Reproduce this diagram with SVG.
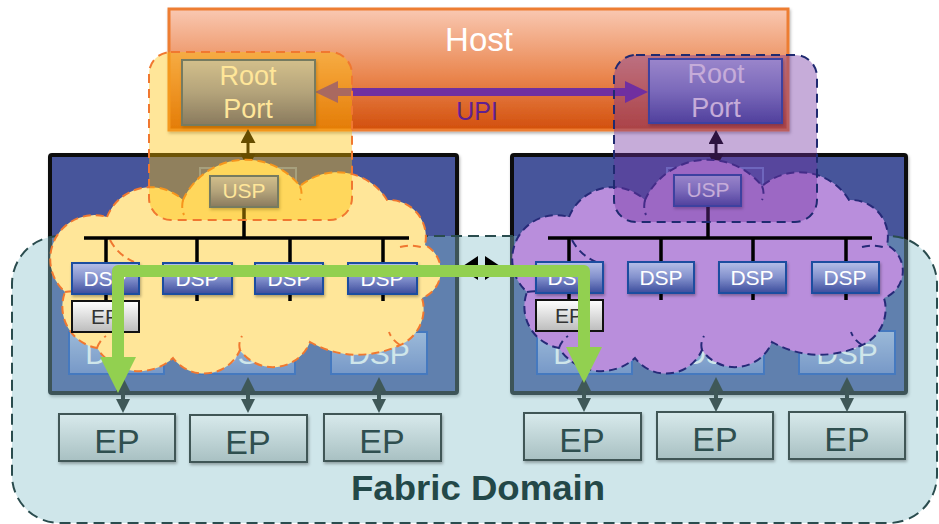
<svg xmlns="http://www.w3.org/2000/svg" width="939" height="524" viewBox="0 0 939 524">
  <defs>
    <linearGradient id="g-host" x1="0" y1="0" x2="0" y2="1">
      <stop offset="0" stop-color="#f9c8b2"/>
      <stop offset="0.55" stop-color="#ea8750"/>
      <stop offset="1" stop-color="#d24f0c"/>
    </linearGradient>
    <linearGradient id="g-port" x1="0" y1="0" x2="0" y2="1">
      <stop offset="0" stop-color="#b6bfe8"/>
      <stop offset="0.5" stop-color="#8290cc"/>
      <stop offset="1" stop-color="#3c4c9c"/>
    </linearGradient>
    <linearGradient id="g-port-soft" x1="0" y1="0" x2="0" y2="1">
      <stop offset="0" stop-color="#a9b5e2"/>
      <stop offset="1" stop-color="#6d7ec6"/>
    </linearGradient>
    <linearGradient id="g-ep" x1="0" y1="0" x2="0" y2="1">
      <stop offset="0" stop-color="#d8eaec"/>
      <stop offset="1" stop-color="#a8c0c2"/>
    </linearGradient>
    <linearGradient id="g-ep-small" x1="0" y1="0" x2="0" y2="1">
      <stop offset="0" stop-color="#ffffff"/>
      <stop offset="1" stop-color="#bcbcbc"/>
    </linearGradient>
    <filter id="shadow" x="-10%" y="-10%" width="130%" height="150%">
      <feDropShadow dx="1" dy="2" stdDeviation="1.5" flood-color="#000" flood-opacity="0.3"/>
    </filter>
    <marker id="hd-slate" viewBox="0 0 14 14" refX="4" refY="7" markerWidth="14" markerHeight="14" markerUnits="userSpaceOnUse" orient="auto-start-reverse">
      <path d="M0,0 L14,7 L0,14 Z" fill="#3f5858"/>
    </marker>
    <marker id="hd-black" viewBox="0 0 14 15" refX="4" refY="7.5" markerWidth="14" markerHeight="15" markerUnits="userSpaceOnUse" orient="auto-start-reverse">
      <path d="M0,0 L14,7.5 L0,15 Z" fill="#000"/>
    </marker>
    <marker id="hd-link" viewBox="0 0 18 24" refX="8" refY="12" markerWidth="18" markerHeight="24" markerUnits="userSpaceOnUse" orient="auto-start-reverse">
      <path d="M0,0 L18,12 L0,24 Z" fill="#000"/>
    </marker>
    <marker id="hd-upi" viewBox="0 0 23 22" refX="6" refY="11" markerWidth="23" markerHeight="22" markerUnits="userSpaceOnUse" orient="auto-start-reverse">
      <path d="M0,0 L23,11 L0,22 Z" fill="#7030a0"/>
    </marker>
    <marker id="hd-path" viewBox="0 0 36 36" refX="18" refY="18" markerWidth="36" markerHeight="36" markerUnits="userSpaceOnUse" orient="auto-start-reverse">
      <path d="M0,0 L36,18 L0,36 Z" fill="#92d050"/>
    </marker>
    <!-- virtual switch cloud outline -->
    <path id="cloud" d="M107,217 A47 47 0 0 1 183,200 A69 69 0 0 1 300,186 A58 58 0 0 1 387,200 A37 37 0 0 1 425,245 A29 29 0 0 1 422,298 A39 39 0 0 1 400,345 A96 96 0 0 1 310,342 A40 40 0 0 1 240,350 A39 39 0 0 1 173,358 A50 50 0 0 1 97,348 A42 42 0 0 1 65,292 A44 44 0 0 1 107,217 Z"/>
    <path id="cloud-inner" d="M110,240 Q118,255 134,262 M300,186 Q303,193 300,200 M400,247 Q412,244 424,248 M240,350 Q238,343 242,336 M97,348 Q100,340 106,336 M65,292 Q75,290 83,293 M400,345 Q392,340 389,332 M183,200 Q181,208 184,215"/>
  </defs>
  <style>
    .t { font-family: "Liberation Sans", Arial, Helvetica, sans-serif; text-anchor: middle; }
    .port { fill: url(#g-port); stroke: #1f4ea0; stroke-width: 2; filter: url(#shadow); }
    .port-soft { fill: url(#g-port-soft); stroke: #1a4ab8; stroke-width: 2; }
    .usp-big { fill: #4b5ba3; stroke: #6d8ad0; stroke-width: 2; }
    .switch { fill: #46559b; stroke: #111; stroke-width: 4; filter: url(#shadow); }
    .ep { fill: url(#g-ep); stroke: #3f5656; stroke-width: 2; filter: url(#shadow); }
    .ep-small { fill: url(#g-ep-small); stroke: #111; stroke-width: 2; }
    .bus { stroke: #000; stroke-width: 3.5; fill: none; }
    .wt { fill: #fff; }
    .soft-t { fill: #fff; font-size: 30px; }
    .ep-t { fill: #2f4f4f; font-size: 34px; }
    .cloud-y { fill: #ffe699; stroke: #f07830; stroke-width: 2; stroke-dasharray: 8 5; }
    .cloud-p { fill: #b98edc; stroke: #262a78; stroke-width: 2; stroke-dasharray: 8 5; }
    .inner-y { fill: none; stroke: #f07830; stroke-width: 2; stroke-dasharray: 8 5; }
    .inner-p { fill: none; stroke: #262a78; stroke-width: 2; stroke-dasharray: 8 5; }
  </style>

  <!-- host -->
  <g id="host">
    <rect x="169" y="9" width="619" height="121" fill="url(#g-host)" stroke="#ed7d31" stroke-width="3" filter="url(#shadow)"/>
    <text class="t" x="479" y="51" font-size="33" fill="#fff">Host</text>
    <text class="t" x="477" y="120" font-size="25" fill="#602090">UPI</text>
  </g>

  <!-- UPI link between root ports -->
  <g id="upi-link">
    <line x1="332" y1="92" x2="631" y2="92" stroke="#7030a0" stroke-width="8" marker-start="url(#hd-upi)" marker-end="url(#hd-upi)"/>
  </g>

  <g id="root-port-a">
    <rect class="port" x="182" y="60" width="133" height="65"/>
    <text class="t wt" x="248" y="85" font-size="27">Root</text>
    <text class="t wt" x="248" y="118" font-size="27">Port</text>
  </g>
  <g id="root-port-b">
    <rect class="port" x="649" y="59" width="133" height="64"/>
    <text class="t wt" x="716" y="83" font-size="27">Root</text>
    <text class="t wt" x="716" y="117" font-size="27">Port</text>
  </g>

  <!-- physical switches -->
  <g id="switch-a">
    <rect class="switch" x="50" y="155" width="407" height="238" rx="2"/>
    <rect class="usp-big" x="200" y="168" width="96" height="42"/>
    <rect class="port-soft" x="69" y="332" width="95" height="42"/>
    <rect class="port-soft" x="199" y="332" width="96" height="42"/>
    <rect class="port-soft" x="331" y="332" width="96" height="42"/>
    <text class="t soft-t" x="116" y="364">DSP</text>
    <text class="t soft-t" x="247" y="364">DSP</text>
    <text class="t soft-t" x="379" y="364">DSP</text>
  </g>
  <g id="switch-b">
    <rect class="switch" x="512" y="155" width="394" height="238" rx="2"/>
    <rect class="usp-big" x="667" y="168" width="96" height="42"/>
    <rect class="port-soft" x="537" y="331" width="95" height="43"/>
    <rect class="port-soft" x="667" y="331" width="97" height="43"/>
    <rect class="port-soft" x="799" y="331" width="96" height="43"/>
    <text class="t soft-t" x="584" y="364">DSP</text>
    <text class="t soft-t" x="715" y="364">DSP</text>
    <text class="t soft-t" x="847" y="364">DSP</text>
  </g>

  <!-- root port to switch upstream links -->
  <g id="uplinks">
    <line x1="248" y1="139" x2="248" y2="158" stroke="#000" stroke-width="3" marker-start="url(#hd-black)" marker-end="url(#hd-black)"/>
    <line x1="716" y1="140" x2="716" y2="158" stroke="#000" stroke-width="3" marker-start="url(#hd-black)" marker-end="url(#hd-black)"/>
  </g>

  <!-- fabric domain -->
  <g id="fabric-domain">
    <rect x="12" y="236" width="925" height="287" rx="48" fill="#87c0ca" fill-opacity="0.4" stroke="#2a4c4e" stroke-width="2" stroke-dasharray="11 6"/>
    <text class="t" x="478" y="500" font-size="35" font-weight="bold" fill="#234848" textLength="254" lengthAdjust="spacingAndGlyphs">Fabric Domain</text>
  </g>

  <!-- endpoints -->
  <g id="ep-a1"><rect class="ep" x="59" y="414" width="116" height="47"/><text class="t ep-t" x="117" y="453">EP</text></g>
  <g id="ep-a2"><rect class="ep" x="190" y="415" width="117" height="47"/><text class="t ep-t" x="248" y="454">EP</text></g>
  <g id="ep-a3"><rect class="ep" x="324" y="414" width="117" height="47"/><text class="t ep-t" x="382" y="453">EP</text></g>
  <g id="ep-b1"><rect class="ep" x="524" y="413" width="117" height="47"/><text class="t ep-t" x="582" y="452">EP</text></g>
  <g id="ep-b2"><rect class="ep" x="657" y="412" width="116" height="47"/><text class="t ep-t" x="715" y="451">EP</text></g>
  <g id="ep-b3"><rect class="ep" x="789" y="412" width="116" height="47"/><text class="t ep-t" x="847" y="451">EP</text></g>

  <!-- downstream links to endpoints -->
  <g id="ep-links" stroke="#3f5858" stroke-width="4">
    <line x1="123" y1="387" x2="123" y2="403" marker-start="url(#hd-slate)" marker-end="url(#hd-slate)"/>
    <line x1="248" y1="387" x2="248" y2="403" marker-start="url(#hd-slate)" marker-end="url(#hd-slate)"/>
    <line x1="379" y1="387" x2="379" y2="403" marker-start="url(#hd-slate)" marker-end="url(#hd-slate)"/>
    <line x1="584" y1="387" x2="584" y2="402" marker-start="url(#hd-slate)" marker-end="url(#hd-slate)"/>
    <line x1="716" y1="387" x2="716" y2="402" marker-start="url(#hd-slate)" marker-end="url(#hd-slate)"/>
    <line x1="847" y1="387" x2="847" y2="402" marker-start="url(#hd-slate)" marker-end="url(#hd-slate)"/>
  </g>

  <!-- virtual switch A -->
  <g id="vswitch-a">
    <use href="#cloud" class="cloud-y"/>
    <use href="#cloud-inner" class="inner-y"/>
    <path class="bus" d="M84,238 H409 M244,207 V238 M106,238 V263 M197,238 V263 M290,238 V263 M383,238 V263 M106,294 V301 M197,294 V301 M290,294 V301 M383,294 V301"/>
    <rect class="port" x="210" y="176" width="68" height="31"/>
    <text class="t wt" x="244" y="198" font-size="21">USP</text>
    <rect class="port" x="72" y="263" width="67" height="31"/>
    <rect class="port" x="163" y="263" width="69" height="31"/>
    <rect class="port" x="255" y="263" width="68" height="31"/>
    <rect class="port" x="348" y="263" width="69" height="31"/>
    <text class="t wt" x="105" y="286" font-size="21">DSP</text>
    <text class="t wt" x="197" y="286" font-size="21">DSP</text>
    <text class="t wt" x="289" y="286" font-size="21">DSP</text>
    <text class="t wt" x="382" y="286" font-size="21">DSP</text>
    <rect class="ep-small" x="72" y="301" width="67" height="31"/>
    <text class="t" x="105" y="324" font-size="21" fill="#333">EP</text>
  </g>

  <!-- virtual switch B -->
  <g id="vswitch-b">
    <use href="#cloud" class="cloud-p" transform="translate(462,0)"/>
    <use href="#cloud-inner" class="inner-p" transform="translate(462,0)"/>
    <path class="bus" d="M548,238 H872 M708,206 V238 M569,238 V262 M661,238 V262 M753,238 V262 M846,238 V262 M569,293 V300 M661,293 V300 M753,293 V300 M846,293 V300"/>
    <rect class="port" x="674" y="175" width="67" height="31"/>
    <text class="t wt" x="708" y="197" font-size="21">USP</text>
    <rect class="port" x="536" y="262" width="67" height="31"/>
    <rect class="port" x="628" y="262" width="66" height="31"/>
    <rect class="port" x="719" y="262" width="67" height="31"/>
    <rect class="port" x="812" y="262" width="67" height="31"/>
    <text class="t wt" x="569" y="285" font-size="21">DSP</text>
    <text class="t wt" x="661" y="285" font-size="21">DSP</text>
    <text class="t wt" x="752" y="285" font-size="21">DSP</text>
    <text class="t wt" x="845" y="285" font-size="21">DSP</text>
    <rect class="ep-small" x="536" y="300" width="67" height="31"/>
    <text class="t" x="569" y="323" font-size="21" fill="#333">EP</text>
  </g>

  <!-- inter-switch link -->
  <g id="switch-link">
    <line x1="470" y1="268" x2="493" y2="268" stroke="#000" stroke-width="4" marker-start="url(#hd-link)" marker-end="url(#hd-link)"/>
  </g>

  <!-- host domain highlights -->
  <g id="domain-a">
    <rect x="149" y="52" width="203" height="168" rx="22" fill="#ffc000" fill-opacity="0.4" stroke="#f07830" stroke-width="2" stroke-dasharray="9 6"/>
  </g>
  <g id="domain-b">
    <rect x="614" y="55" width="203" height="167" rx="22" fill="#7030a0" fill-opacity="0.4" stroke="#1f2a70" stroke-width="2" stroke-dasharray="9 6"/>
  </g>

  <!-- peer-to-peer route -->
  <g id="route">
    <path d="M118,375 L118,271 L584,271 L584,365" fill="none" stroke="#92d050" stroke-width="12" stroke-linejoin="round" marker-start="url(#hd-path)" marker-end="url(#hd-path)"/>
  </g>
</svg>
